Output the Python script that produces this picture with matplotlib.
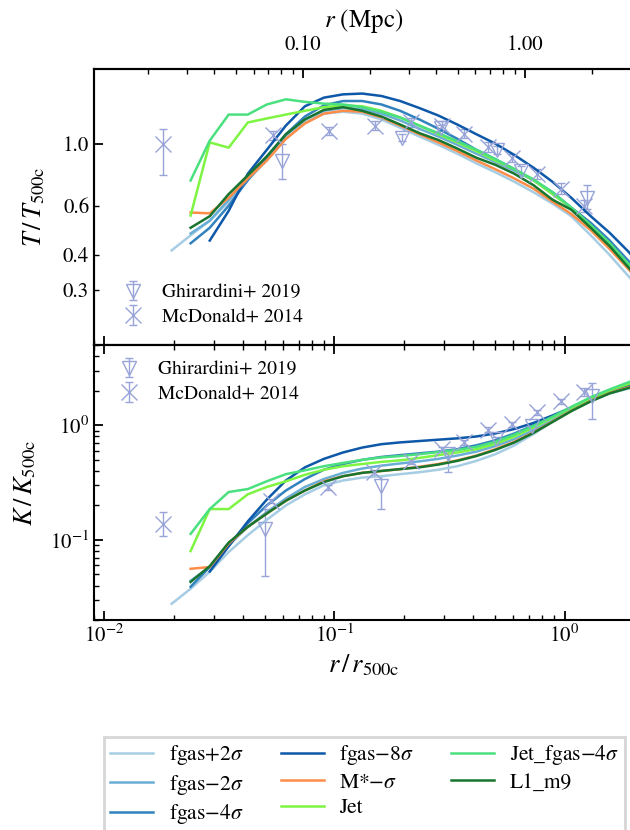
import numpy as np
import matplotlib
matplotlib.use('Agg')
import matplotlib.pyplot as plt
from matplotlib.ticker import FixedLocator, FixedFormatter, NullFormatter

plt.rcParams['font.family'] = 'STIXGeneral'
plt.rcParams['mathtext.fontset'] = 'stix'
plt.rcParams['axes.linewidth'] = 1.5

nan = np.nan

# radial bins (r / r500c)
r_bins = [0.0196, 0.0237, 0.0287, 0.0347, 0.042, 0.0508, 0.0615, 0.0744, 0.09, 0.109,
          0.132, 0.16, 0.193, 0.234, 0.283, 0.342, 0.414, 0.5, 0.606, 0.733,
          0.887, 1.07, 1.3, 1.57, 1.9, 2.3]

labels = ['fgas+2$\\sigma$', 'fgas$-$2$\\sigma$', 'fgas$-$4$\\sigma$', 'fgas$-$8$\\sigma$',
          'M*$-\\sigma$', 'Jet', 'Jet_fgas$-$4$\\sigma$', 'L1_m9']
colors = ['#a6cde4', '#6aaed6', '#3182bd', '#0d58a8', '#fd8d49', '#7ef542', '#4be07f', '#17752f']

# temperature profiles T / T500c
T_fgas_p2 = [0.415, 0.47, 0.53, 0.62, 0.74, 0.87, 1.04, 1.19, 1.28, 1.30, 1.28, 1.22, 1.14,
             1.06, 0.99, 0.92, 0.85, 0.79, 0.73, 0.67, 0.61, 0.55, 0.47, 0.40, 0.335, 0.28]
T_fgas_m2 = [nan, 0.477, 0.53, 0.63, 0.76, 0.90, 1.07, 1.22, 1.31, 1.34, 1.33, 1.28, 1.21,
             1.13, 1.06, 0.99, 0.92, 0.86, 0.80, 0.74, 0.66, 0.59, 0.52, 0.45, 0.37, 0.31]
T_fgas_m4 = [nan, 0.44, 0.50, 0.60, 0.74, 0.89, 1.08, 1.25, 1.37, 1.42, 1.42, 1.38, 1.31,
             1.22, 1.13, 1.04, 0.95, 0.88, 0.81, 0.74, 0.67, 0.59, 0.52, 0.45, 0.38, 0.32]
T_fgas_m8 = [nan, nan, 0.45, 0.575, 0.78, 0.95, 1.16, 1.36, 1.46, 1.50, 1.51, 1.48, 1.42,
             1.34, 1.26, 1.17, 1.08, 1.00, 0.91, 0.82, 0.73, 0.64, 0.55, 0.48, 0.41, 0.34]
T_mstar = [nan, 0.567, 0.563, 0.64, 0.75, 0.87, 1.04, 1.18, 1.28, 1.31, 1.30, 1.24, 1.16,
           1.08, 1.01, 0.94, 0.87, 0.81, 0.75, 0.69, 0.62, 0.56, 0.49, 0.42, 0.355, 0.295]
T_jet = [nan, 0.553, 1.01, 0.967, 1.19, 1.23, 1.27, 1.31, 1.35, 1.37, 1.36, 1.31, 1.24,
         1.16, 1.08, 1.01, 0.94, 0.87, 0.81, 0.74, 0.66, 0.59, 0.51, 0.44, 0.37, 0.31]
T_jet_fgas = [nan, 0.738, 1.025, 1.27, 1.27, 1.38, 1.44, 1.41, 1.39, 1.38, 1.35, 1.30, 1.24,
              1.16, 1.09, 1.02, 0.95, 0.88, 0.81, 0.745, 0.67, 0.59, 0.51, 0.44, 0.37, 0.31]
T_l1m9 = [nan, 0.50, 0.55, 0.66, 0.77, 0.90, 1.08, 1.22, 1.32, 1.35, 1.31, 1.25, 1.17,
          1.09, 1.03, 0.96, 0.89, 0.84, 0.78, 0.71, 0.63, 0.58, 0.50, 0.43, 0.36, 0.30]

# entropy profiles K / K500c
K_fgas_p2 = [0.0277, 0.0375, 0.0527, 0.0785, 0.11, 0.15, 0.20, 0.25, 0.30, 0.33, 0.35, 0.36, 0.375,
             0.39, 0.41, 0.44, 0.49, 0.56, 0.67, 0.84, 1.08, 1.35, 1.62, 1.90, 2.1, 2.45]
K_fgas_m2 = [nan, 0.044, 0.058, 0.09, 0.13, 0.175, 0.23, 0.29, 0.34, 0.385, 0.42, 0.445, 0.465,
             0.485, 0.51, 0.545, 0.59, 0.66, 0.76, 0.91, 1.11, 1.37, 1.68, 1.98, 2.25, 2.6]
K_fgas_m4 = [nan, 0.039, 0.058, 0.09, 0.14, 0.20, 0.27, 0.34, 0.41, 0.46, 0.50, 0.53, 0.55,
             0.57, 0.59, 0.62, 0.67, 0.74, 0.85, 1.0, 1.18, 1.42, 1.72, 2.0, 2.25, 2.6]
K_fgas_m8 = [nan, nan, 0.053, 0.088, 0.145, 0.225, 0.33, 0.43, 0.51, 0.58, 0.64, 0.685, 0.71,
             0.73, 0.75, 0.77, 0.80, 0.85, 0.93, 1.05, 1.22, 1.43, 1.72, 2.0, 2.25, 2.6]
K_mstar = [nan, 0.056, 0.058, 0.093, 0.13, 0.17, 0.22, 0.27, 0.325, 0.36, 0.385, 0.40, 0.415,
           0.435, 0.46, 0.495, 0.545, 0.62, 0.72, 0.87, 1.08, 1.34, 1.64, 1.92, 2.15, 2.5]
K_jet = [nan, 0.080, 0.186, 0.186, 0.25, 0.29, 0.325, 0.37, 0.41, 0.44, 0.46, 0.48, 0.495,
         0.52, 0.55, 0.58, 0.62, 0.69, 0.80, 0.96, 1.17, 1.42, 1.73, 2.02, 2.3, 2.7]
K_jet_fgas = [nan, 0.113, 0.186, 0.262, 0.278, 0.325, 0.375, 0.405, 0.44, 0.47, 0.50, 0.525, 0.54,
              0.56, 0.585, 0.61, 0.65, 0.72, 0.83, 0.99, 1.19, 1.45, 1.76, 2.06, 2.38, 2.75]
K_l1m9 = [nan, 0.043, 0.059, 0.095, 0.13, 0.17, 0.22, 0.27, 0.32, 0.36, 0.385, 0.40, 0.415,
          0.43, 0.455, 0.49, 0.54, 0.61, 0.71, 0.86, 1.07, 1.33, 1.62, 1.90, 2.12, 2.45]

T_profiles = [T_fgas_p2, T_fgas_m2, T_fgas_m4, T_fgas_m8, T_mstar, T_jet, T_jet_fgas, T_l1m9]
K_profiles = [K_fgas_p2, K_fgas_m2, K_fgas_m4, K_fgas_m8, K_mstar, K_jet, K_jet_fgas, K_l1m9]

# observations
obs_color = '#98a4d8'
gh_r_T = [0.059, 0.197, 0.29, 0.51, 0.65, 1.25]
gh_T = [0.87, 1.05, 1.14, 0.95, 0.80, 0.64]
gh_T_lo = [0.12, 0.03, 0.03, 0.03, 0.03, 0.055]
gh_T_hi = [0.13, 0.03, 0.03, 0.03, 0.03, 0.07]

mc_r_T = [0.018, 0.054, 0.095, 0.15, 0.216, 0.292, 0.367, 0.467, 0.594, 0.763, 0.97, 1.21]
mc_T = [1.0, 1.07, 1.11, 1.16, 1.19, 1.16, 1.085, 0.975, 0.89, 0.78, 0.69, 0.60]
mc_T_lo = [0.23, 0.04, 0.04, 0.04, 0.04, 0.04, 0.04, 0.04, 0.03, 0.03, 0.03, 0.03]
mc_T_hi = [0.13, 0.04, 0.04, 0.04, 0.04, 0.04, 0.04, 0.04, 0.03, 0.03, 0.03, 0.03]

gh_r_K = [0.05, 0.16, 0.31, 0.506, 0.72, 1.31]
gh_K = [0.125, 0.295, 0.56, 0.756, 0.98, 1.79]
gh_K_lo = [0.077, 0.11, 0.17, 0.04, 0.05, 0.66]
gh_K_hi = [0.06, 0.065, 0.05, 0.04, 0.05, 0.57]

mc_r_K = [0.018, 0.053, 0.094, 0.149, 0.216, 0.292, 0.367, 0.467, 0.594, 0.763, 0.97, 1.21]
mc_K = [0.138, 0.218, 0.289, 0.39, 0.486, 0.618, 0.71, 0.92, 1.02, 1.30, 1.62, 1.94]
mc_K_lo = [0.03, 0.01, 0.015, 0.02, 0.025, 0.03, 0.035, 0.04, 0.05, 0.06, 0.08, 0.15]
mc_K_hi = [0.037, 0.01, 0.015, 0.02, 0.025, 0.03, 0.035, 0.04, 0.05, 0.06, 0.08, 0.2]

fig = plt.figure(figsize=(6.3, 8.3), dpi=100)
ax1 = fig.add_axes([0.149, 0.584, 0.857, 0.333])
ax2 = fig.add_axes([0.149, 0.253, 0.857, 0.331])

for ax in (ax1, ax2):
    ax.set_xscale('log')
    ax.set_yscale('log')
    ax.set_xlim(0.009, 2.0)
    ax.tick_params(which='both', direction='in', top=True, labelsize=15)
    ax.tick_params(which='major', length=6.5, width=1.3)
    ax.tick_params(which='minor', length=3.5, width=1.0)

# upper panel: temperature
ax1.errorbar(gh_r_T, gh_T, yerr=[gh_T_lo, gh_T_hi], fmt='v', mfc='none', mec=obs_color,
             ecolor=obs_color, ms=10, capsize=3, elinewidth=1, mew=1, label='Ghirardini+ 2019')
ax1.errorbar(mc_r_T, mc_T, yerr=[mc_T_lo, mc_T_hi], fmt='x', color=obs_color,
             ms=11, capsize=3, elinewidth=1, mew=1, label='McDonald+ 2014')
lines = []
for prof, lab, c in zip(T_profiles, labels, colors):
    l, = ax1.plot(r_bins, prof, color=c, lw=1.8, label=lab)
    lines.append(l)
ax1.set_ylim(0.19, 1.85)
ax1.yaxis.set_major_locator(FixedLocator([1.0]))
ax1.yaxis.set_major_formatter(FixedFormatter(['1.0']))
ax1.yaxis.set_minor_locator(FixedLocator([0.3, 0.4, 0.6]))
ax1.yaxis.set_minor_formatter(FixedFormatter(['0.3', '0.4', '0.6']))
ax1.tick_params(axis='x', labelbottom=False, top=False)
ax1.set_ylabel(r'$T\,/\,T_{\rm 500c}$', fontsize=19, labelpad=11)
h, l = ax1.get_legend_handles_labels()
ax1.legend(h[-2:], l[-2:], loc='lower left', frameon=False, fontsize=14, labelspacing=0.35,
           borderaxespad=0.6, handletextpad=0.5)

# top axis in Mpc
ax_top = ax1.twiny()
ax_top.set_xscale('log')
ax_top.set_xlim(0.01145, 3.1)
ax_top.xaxis.set_major_locator(FixedLocator([0.1, 1.0]))
ax_top.xaxis.set_major_formatter(FixedFormatter(['0.10', '1.00']))
ax_top.xaxis.set_minor_formatter(NullFormatter())
ax_top.tick_params(which='both', direction='in', labelsize=15, pad=10)
ax_top.tick_params(which='major', length=6.5, width=1.3)
ax_top.tick_params(which='minor', length=3.5, width=1.0)
ax_top.set_xlabel(r'$r$ (Mpc)', fontsize=18, labelpad=6)

# lower panel: entropy
ax2.errorbar(gh_r_K, gh_K, yerr=[gh_K_lo, gh_K_hi], fmt='v', mfc='none', mec=obs_color,
             ecolor=obs_color, ms=10, capsize=3, elinewidth=1, mew=1, label='Ghirardini+ 2019')
ax2.errorbar(mc_r_K, mc_K, yerr=[mc_K_lo, mc_K_hi], fmt='x', color=obs_color,
             ms=11, capsize=3, elinewidth=1, mew=1, label='McDonald+ 2014')
for prof, lab, c in zip(K_profiles, labels, colors):
    ax2.plot(r_bins, prof, color=c, lw=1.8, label=lab)
ax2.set_ylim(0.02, 5)
ax2.set_ylabel(r'$K\,/\,K_{\rm 500c}$', fontsize=19, labelpad=8)
ax2.set_xlabel(r'$r\,/\,r_{\rm 500c}$', fontsize=19)
h, l = ax2.get_legend_handles_labels()
ax2.legend(h[-2:], l[-2:], loc='upper left', frameon=False, fontsize=14, labelspacing=0.35,
           borderaxespad=0.4, handletextpad=0.5)

leg = fig.legend(lines, labels, loc='upper left', bbox_to_anchor=(0.165, 0.112), ncol=3,
                 fontsize=15.5, frameon=True, fancybox=False, edgecolor='#cccccc',
                 handlelength=2.0, handletextpad=0.7, labelspacing=0.25, borderpad=0.3,
                 columnspacing=1.75, borderaxespad=0)
leg.get_frame().set_linewidth(2)

fig.savefig('out.png', dpi=100)
